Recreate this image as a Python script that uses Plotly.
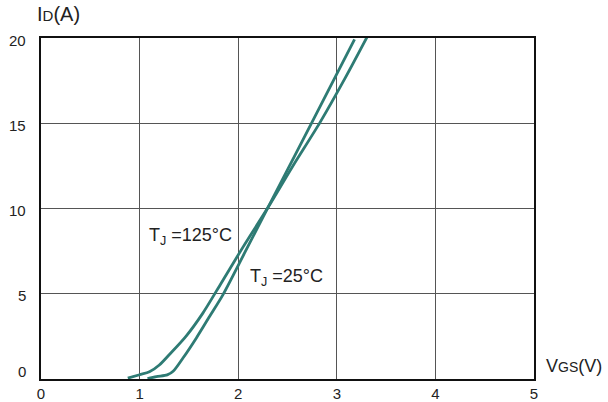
import plotly.graph_objects as go

# Transfer characteristics: drain current vs gate-source voltage
vgs_25 = [1.08, 1.17, 1.28, 1.34, 1.44, 1.576, 1.711, 1.846, 2.07, 2.30, 2.74, 3.18]
id_25 = [0.02, 0.14, 0.24, 0.45, 1.23, 2.41, 3.68, 4.95, 7.45, 10.04, 14.96, 19.92]

vgs_125 = [0.88, 1.00, 1.10, 1.20, 1.30, 1.47, 1.64, 1.83, 2.05, 2.30, 2.55, 2.83, 3.08, 3.32]
id_125 = [0.05, 0.25, 0.42, 0.82, 1.42, 2.50, 3.85, 5.65, 7.75, 10.04, 12.45, 15.05, 17.6, 20.2]

x_ticks = [0, 1, 2, 3, 4, 5]
y_ticks = [0, 5, 10, 15, 20]
y_tick_labels = ["0", "5", "10", "15", "20"]

curve_color = "#2e7b74"
font_family = "Liberation Sans, Arial, sans-serif"

fig = go.Figure()
for xs, ys in [(vgs_125, id_125), (vgs_25, id_25)]:
    fig.add_trace(go.Scatter(
        x=xs, y=ys, mode="lines",
        line=dict(color=curve_color, width=2.8, shape="spline", smoothing=0.8),
        showlegend=False, hoverinfo="skip",
    ))

axis_common = dict(
    showgrid=True, gridcolor="#555555", gridwidth=1.3,
    zeroline=False, showline=True, linecolor="#111111", linewidth=2,
    mirror=True, ticks="", fixedrange=True, automargin=False,
    tickfont=dict(family=font_family, size=15, color="#222222"),
)

# y tick labels as annotations (the zero label sits slightly above the axis)
y_label_annotations = [
    dict(xref="paper", yref="y", x=0, y=v, xshift=-13, yshift=(8 if v == 0 else -2),
         xanchor="right", yanchor="middle", showarrow=False, text=t,
         font=dict(size=15, family=font_family, color="#222222"))
    for v, t in zip(y_ticks, y_tick_labels)
]

fig.update_layout(
    width=608, height=402,
    margin=dict(l=41, r=74, t=38, b=23),
    paper_bgcolor="white", plot_bgcolor="white",
    font=dict(family=font_family, color="#222222"),
    xaxis=dict(range=[0, 5], tickvals=x_ticks, ticklabelstandoff=0, **axis_common),
    yaxis=dict(range=[0, 20], tickvals=y_ticks, showticklabels=False, **axis_common),
    annotations=y_label_annotations + [
        dict(xref="paper", yref="paper", x=0, y=1, xshift=-6, yshift=11,
             xanchor="left", yanchor="bottom", showarrow=False,
             text="I<span style='font-size:15px'>D</span>(A)",
             font=dict(size=20, family=font_family)),
        dict(xref="paper", yref="paper", x=1, y=0, xshift=10, yshift=13,
             xanchor="left", yanchor="middle", showarrow=False,
             text="V<span style='font-size:14px'>GS</span>(V)",
             font=dict(size=18, family=font_family)),
        dict(x=1.07, y=8.36, xanchor="left", yanchor="middle", showarrow=False,
             text="T<sub>J</sub> =125°C", font=dict(size=18, family=font_family)),
        dict(x=2.10, y=5.95, xanchor="left", yanchor="middle", showarrow=False,
             text="T<sub>J</sub> =25°C", font=dict(size=18, family=font_family)),
    ],
)

fig.write_html("out.html")
